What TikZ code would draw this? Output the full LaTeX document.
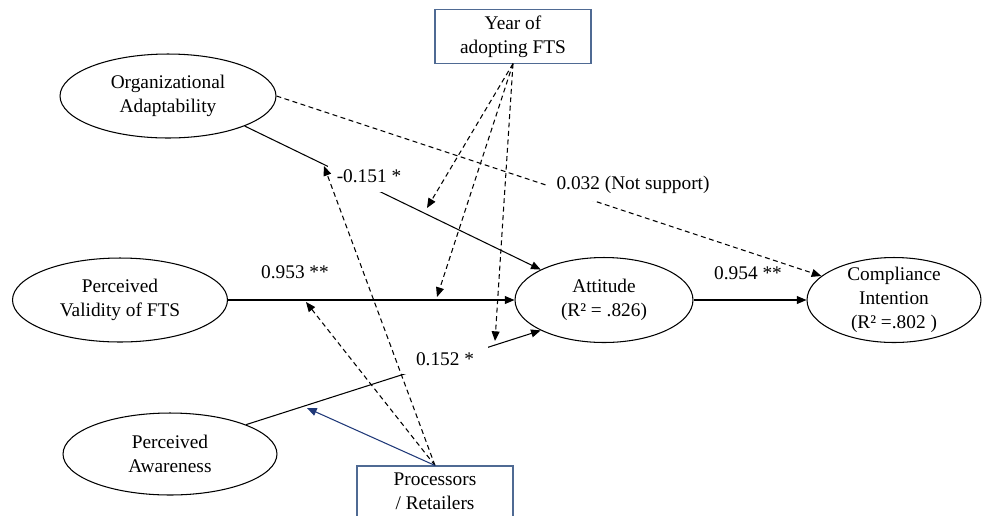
\documentclass[tikz,border=0pt]{standalone}
\usepackage{fontspec}
\setmainfont{Liberation Serif}
\usetikzlibrary{shapes.geometric,arrows.meta}
\definecolor{boxblue}{RGB}{79,106,147}
\definecolor{navyarrow}{RGB}{31,56,120}

\begin{document}
\begin{tikzpicture}[x=0.02cm, y=-0.02cm,
  every node/.style={font=\fontsize{11}{13.5}\selectfont, align=center},
  construct/.style={draw, ellipse, inner sep=0pt, line width=0.6pt},
  modbox/.style={draw=boxblue, line width=0.6pt, minimum width=3.12cm, minimum height=1.02cm},
  coef/.style={fill=white, inner sep=0pt},
  effect/.style={line width=0.6pt, -{Triangle[length=5.5pt,width=4.5pt]}},
  moder/.style={line width=0.6pt, dash pattern=on 2.8pt off 2pt, -{Triangle[length=5.5pt,width=4.5pt]}}]
\clip (0,0) rectangle (984,515);
%\tikzstyle{every node}=[draw];
\node [construct, minimum width=4.32cm, minimum height=1.68cm] (oa) at (168,96) {Organizational\\Adaptability};
\node [construct, minimum width=4.3cm, minimum height=1.68cm] (pv) at (120,300) {Perceived\\Validity of FTS};
\node [construct, minimum width=4.28cm, minimum height=1.64cm] (pa) at (170,454) {Perceived\\Awareness};
\node [construct, minimum width=3.56cm, minimum height=1.7cm] (att) at (604,300) {Attitude\\(R² = .826)};
\node [construct, minimum width=3.48cm, minimum height=1.7cm, inner ysep=-3pt] (ci) at (894,300) {Compliance\\Intention\\(R² =.802 )};
\node [modbox] (yr) at (513,36.5) {Year of\\adopting FTS};
\node [modbox] (pr) at (435,491.5) {Processors\\/ Retailers};
\coordinate (t1) at (427,208);
\coordinate (t2) at (437,297);
\coordinate (t3) at (495,341);
\coordinate (p1) at (324,166);
\coordinate (p2) at (306,302);
\coordinate (p3) at (307,408);
\draw [effect] (oa.south east) -- (att.north west);
\draw [effect] (pv) -- (att);
\draw [effect] (pa.north east) -- (att.south west);
\draw [effect] (att) -- (ci);
\draw [moder] (oa.east) -- (ci);
\node [coef, minimum width=1.64cm, minimum height=0.64cm] (c1) at (369,176) {-0.151 *};
\node [coef, minimum width=3.5cm, minimum height=0.64cm] (c2) at (633,185) {0.032 (Not support)};
\node (c3) at (295,272) {0.953 **};
\node [coef, minimum width=1.72cm, minimum height=0.6cm] (c4) at (445,359) {0.152 *};
\node (c5) at (748,273) {0.954 **};
\draw [moder] (yr.south) -- (t1);
\draw [moder] (yr.south) -- (t2);
\draw [moder] (yr.south) -- (t3);
\draw [moder] (pr.north) -- (p1);
\draw [moder] (pr.north) -- (p2);
\draw [effect, navyarrow] (pr.north) -- (p3);
\end{tikzpicture}
\end{document}
